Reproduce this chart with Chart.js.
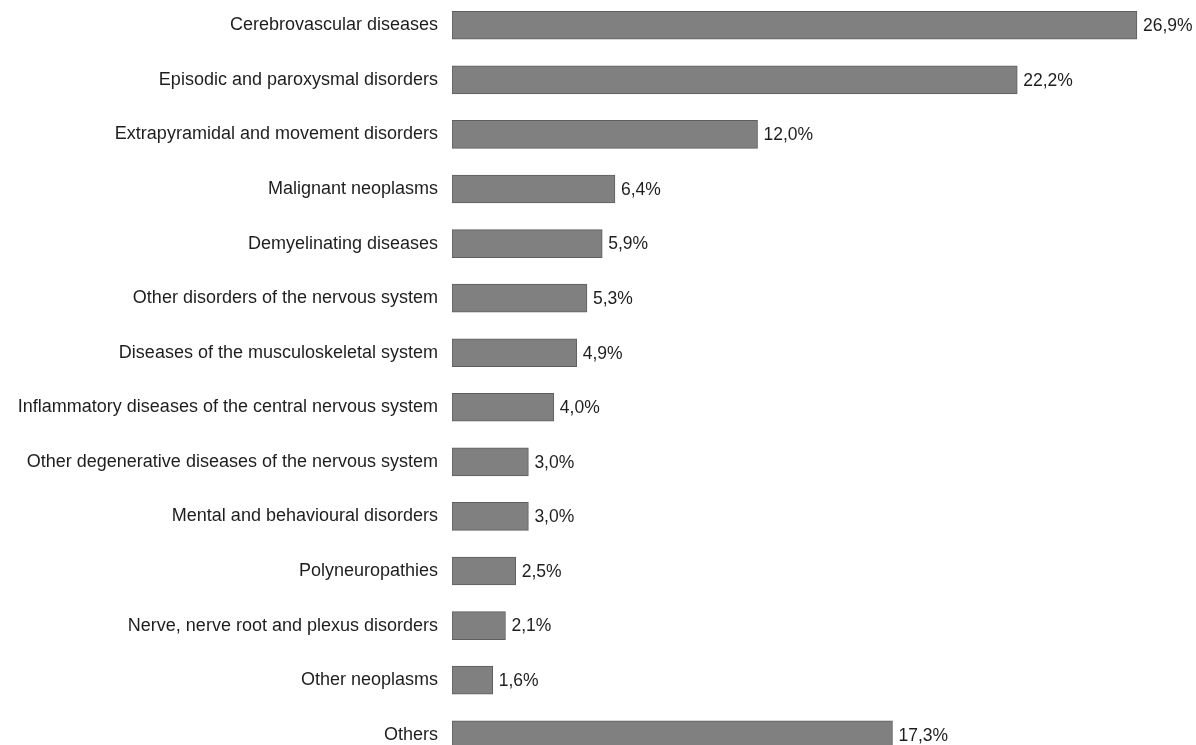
<!DOCTYPE html>
<html>
<head>
<meta charset="utf-8">
<script src="https://cdn.jsdelivr.net/npm/chart.js@4/dist/chart.umd.min.js"></script>
<style>
  html, body { margin: 0; padding: 0; background: #fff; overflow: hidden; }
  .wrap { position: absolute; left: 0; top: -2px; width: 1196px; height: 764px; }
</style>
</head>
<body>
<div class="wrap"><canvas id="causes"></canvas></div>
<script>
const categories = [
  'Cerebrovascular diseases',
  'Episodic and paroxysmal disorders',
  'Extrapyramidal and movement disorders',
  'Malignant neoplasms',
  'Demyelinating diseases',
  'Other disorders of the nervous system',
  'Diseases of the musculoskeletal system',
  'Inflammatory diseases of the central nervous system',
  'Other degenerative diseases of the nervous system',
  'Mental and behavioural disorders',
  'Polyneuropathies',
  'Nerve, nerve root and plexus disorders',
  'Other neoplasms',
  'Others'
];
const shares = [26.9, 22.2, 12.0, 6.4, 5.9, 5.3, 4.9, 4.0, 3.0, 3.0, 2.5, 2.1, 1.6, 17.3];

const FONT = '"Liberation Sans", Arial, sans-serif';

// draws "26,9%" at the end of each bar
const valueLabels = {
  id: 'valueLabels',
  afterDatasetsDraw(chart) {
    const ctx = chart.ctx;
    const meta = chart.getDatasetMeta(0);
    ctx.save();
    ctx.font = '17.5px ' + FONT;
    ctx.fillStyle = '#1e1e1e';
    ctx.textAlign = 'left';
    ctx.textBaseline = 'middle';
    meta.data.forEach((bar, i) => {
      const txt = shares[i].toFixed(1).replace('.', ',') + '%';
      ctx.fillText(txt, bar.x + 6, bar.y + 1);
    });
    ctx.restore();
  }
};

new Chart(document.getElementById('causes'), {
  type: 'bar',
  data: {
    labels: categories,
    datasets: [{
      data: shares,
      backgroundColor: '#808080',
      borderColor: '#5e5e5e',
      borderWidth: 1,
      borderSkipped: false,
      barThickness: 28
    }]
  },
  options: {
    indexAxis: 'y',
    responsive: true,
    maintainAspectRatio: false,
    animation: false,
    layout: { padding: 0 },
    plugins: {
      legend: { display: false },
      tooltip: { enabled: false }
    },
    scales: {
      x: {
        display: false,
        min: 0,
        max: 29.22
      },
      y: {
        grid: { display: false, drawTicks: false },
        border: { display: false },
        ticks: {
          color: '#1e1e1e',
          padding: 14,
          font: { family: FONT, size: 18 }
        },
        afterFit(scale) {
          scale.width = 452;
          // labels sit inside the bar slots, no extra room needed
          scale.paddingTop = 0;
          scale.paddingBottom = 0;
        }
      }
    }
  },
  plugins: [valueLabels]
});
</script>
</body>
</html>
